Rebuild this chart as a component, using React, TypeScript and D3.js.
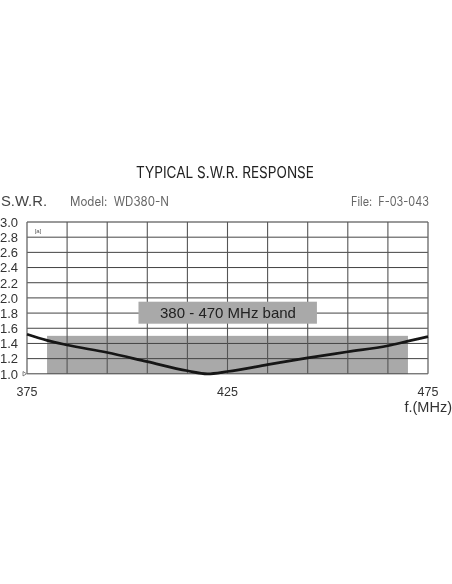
import React from "react";
import * as d3 from "d3";

const swrTicks = [1.0, 1.2, 1.4, 1.6, 1.8, 2.0, 2.2, 2.4, 2.6, 2.8, 3.0];
const freqGrid = [375, 385, 395, 405, 415, 425, 435, 445, 455, 465, 475];
const freqLabels = [375, 425, 475];
const curveFreq = [375, 380, 385, 395, 405, 415, 420, 425, 435, 445, 455, 465, 470, 475];
const curveSwr = [1.52, 1.44, 1.38, 1.28, 1.16, 1.04, 1.0, 1.03, 1.12, 1.21, 1.29, 1.37, 1.43, 1.49];
const bandFreq = [380, 470];
const bandTop = 1.5;
const labelBoxFreq = [402.8, 447.3];
const labelBoxSwr = [1.66, 1.95];

const sans = "'Liberation Sans', Arial, sans-serif";
const geo = "'Inter', 'Lato', sans-serif";

export default function App() {
  const x = d3.scaleLinear().domain([375, 475]).range([27, 428]);
  const y = d3.scaleLinear().domain([1, 3]).range([373.8, 222]);
  const line = d3
    .line<number>()
    .x((_, i) => x(curveFreq[i]))
    .y((d) => y(d))
    .curve(d3.curveMonotoneX);
  return (
    <svg
      width={452}
      height={584}
      style={{ position: "absolute", left: 0, top: 0, display: "block", background: "#fff" }}
    >
      <defs>
        <filter id="soft" x="-5%" y="-5%" width="110%" height="110%">
          <feGaussianBlur stdDeviation="0.35" />
        </filter>
      </defs>
      <g filter="url(#soft)">
        <text x={136} y={178} fontFamily={geo} fontSize={15.5} fill="#222" textLength={178} lengthAdjust="spacingAndGlyphs">
          TYPICAL S.W.R. RESPONSE
        </text>
        <text x={1} y={206} fontFamily={sans} fontSize={15.5} fill="#444" textLength={46} lengthAdjust="spacingAndGlyphs">S.W.R.</text>
        <text x={70} y={206} fontFamily={geo} fontSize={12.5} fill="#666" textLength={99} lengthAdjust="spacingAndGlyphs" xmlSpace="preserve">Model:  WD380-N</text>
        <text x={351} y={206} fontFamily={geo} fontSize={12.5} fill="#666" textLength={78} lengthAdjust="spacingAndGlyphs" xmlSpace="preserve">File:  F-03-043</text>

        <rect x={x(bandFreq[0])} y={y(bandTop)} width={x(bandFreq[1]) - x(bandFreq[0])} height={y(1) - y(bandTop)} fill="#a9a9a9" />

        {swrTicks.map((t) => (
          <line key={t} x1={x(375)} x2={x(475)} y1={y(t)} y2={y(t)} stroke={t === 3 ? "#777" : "#444"} strokeWidth={t === 3 ? 1.6 : 1} />
        ))}
        {freqGrid.map((f) => (
          <line key={f} x1={x(f)} x2={x(f)} y1={y(3)} y2={y(1)} stroke={f === 375 || f === 475 ? "#666" : "#555"} strokeWidth={f === 375 || f === 475 ? 1.3 : 1.1} />
        ))}

        <rect
          x={x(labelBoxFreq[0])}
          y={y(labelBoxSwr[1])}
          width={x(labelBoxFreq[1]) - x(labelBoxFreq[0])}
          height={y(labelBoxSwr[0]) - y(labelBoxSwr[1])}
          fill="#a9a9a9"
        />

        <path d={line(curveSwr) ?? ""} fill="none" stroke="#161616" strokeWidth={2.7} />

        {swrTicks.map((t) => (
          <text key={t} x={0} y={y(t) + 4.8} fontFamily={sans} fontSize={13} fill="#333">
            {t.toFixed(1)}
          </text>
        ))}
        {freqLabels.map((f) => (
          <text key={f} x={x(f)} y={396} textAnchor="middle" fontFamily={sans} fontSize={12.5} fill="#333">
            {f}
          </text>
        ))}
        <text x={452} y={412} textAnchor="end" fontFamily={sans} fontSize={14.5} fill="#333">f.(MHz)</text>
        <text x={228} y={318} textAnchor="middle" fontFamily={sans} fontSize={15} fill="#222">380 - 470 MHz band</text>
        <text x={38} y={232.5} textAnchor="middle" fontFamily={sans} fontSize={6} fill="#555">[a]</text>
        <path d="M23 371.5 L26.5 373.8 L23 376 Z" fill="#fff" stroke="#555" strokeWidth={0.7} />
      </g>
    </svg>
  );
}
